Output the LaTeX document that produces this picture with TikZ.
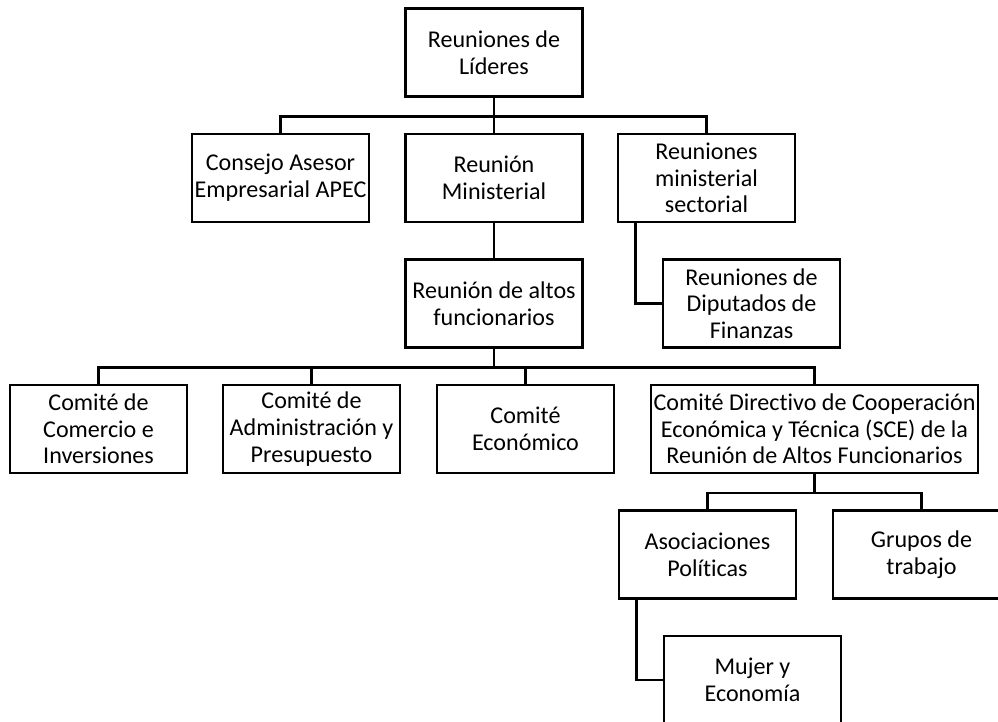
\documentclass[tikz,border=0pt]{standalone}
\usepackage{fontspec}
\setmainfont{Carlito}[Ligatures=NoCommon]
\usetikzlibrary{positioning}

\begin{document}
\begin{tikzpicture}[node distance=2.51cm, line width=1.5pt,
                    box/.style={draw, minimum width=3.54cm, minimum height=1.76cm,
                                align=center, inner sep=1pt,
                                font=\fontsize{13.7}{15.2}\selectfont},
                    bus/.style={to path={(\tikztostart.south) -- ++(0,-0.375) -| (\tikztotarget.north)}},
                    side/.style={to path={(\tikztostart.south west) ++(0.38,0) |- (\tikztotarget.west)}}]
                \useasboundingbox (0,0) rectangle (19.96,-14.44);
                \clip (0,0) rectangle (19.96,-14.44);

                \node[box] (lideres) at (9.88,-1.05) {Reuniones de\\Líderes};
                \node[box] (consejo) [below of = lideres, xshift=-4.27cm] {Consejo Asesor\\Empresarial APEC};
                \node[box] (ministerial) [below of = lideres] {Reunión\\Ministerial};
                \node[box] (sectorial) [below of = lideres, xshift=4.25cm] {Reuniones\\ministerial\\sectorial};
                \node[box] (altos) [below of = ministerial] {Reunión de altos\\funcionarios};
                \node[box] (diputados) [below of = sectorial, xshift=0.9cm] {Reuniones de\\Diputados de\\Finanzas};
                \node[box] (comercio) [below of = altos, xshift=-7.91cm] {Comité de\\Comercio e\\Inversiones};
                \node[box] (admin) [below of = altos, xshift=-3.65cm] {Comité de\\Administración y\\Presupuesto};
                \node[box] (economico) [below of = altos, xshift=0.63cm] {Comité\\Económico};
                \node[box, minimum width=6.54cm] (sce) [below of = altos, xshift=6.41cm]
                    {Comité Directivo de Cooperación\\Económica y Técnica (SCE) de la\\Reunión de Altos Funcionarios};
                \node[box] (asociaciones) [below of = sce, xshift=-2.14cm] {Asociaciones\\Políticas};
                \node[box] (grupos) [below of = sce, xshift=2.14cm] {Grupos de\\trabajo};
                \node[box] (mujer) [below of = asociaciones, xshift=0.9cm] {Mujer y\\Economía};

                \path
                (lideres) edge[bus] (consejo)
                          edge[bus] (ministerial)
                          edge[bus] (sectorial)
                (ministerial) edge[bus] (altos)
                (sectorial) edge[side] (diputados)
                (altos) edge[bus] (comercio)
                        edge[bus] (admin)
                        edge[bus] (economico)
                        edge[bus] (sce)
                (sce) edge[bus] (asociaciones)
                      edge[bus] (grupos)
                (asociaciones) edge[side] (mujer)
                ;
            \end{tikzpicture}
\end{document}
